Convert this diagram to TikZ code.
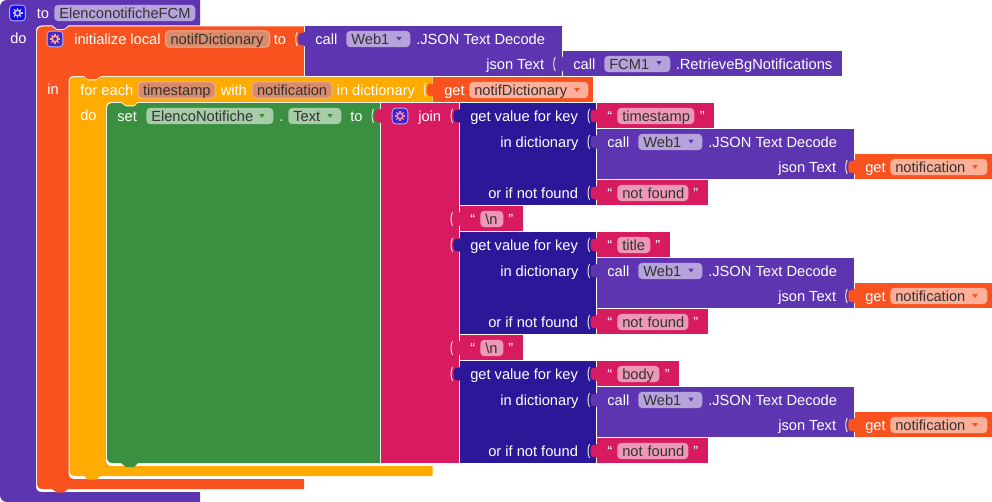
\documentclass[tikz,border=0pt]{standalone}
\usepackage{fontspec}
\setmainfont{Liberation Sans}
\definecolor{procpurple}{HTML}{5E35B1}
\definecolor{localorange}{HTML}{F9521F}
\definecolor{loopamber}{HTML}{FFAB00}
\definecolor{setgreen}{HTML}{3B8F40}
\definecolor{textpink}{HTML}{D81B60}
\definecolor{dictnavy}{HTML}{2D1799}
\definecolor{varfill}{HTML}{D98B6C}
\definecolor{varedge}{HTML}{EDB097}
\tikzset{
	lbl/.style={text=white, inner sep=0pt, anchor=west, text height=9.2pt, text depth=1.5pt, font=\fontsize{11}{13}\selectfont},
	field/.style={lbl, text=black!80, rounded corners=3pt, fill=white, fill opacity=0.55, text opacity=1, inner xsep=3.75pt, inner ysep=0.75pt, text width={(#1)*0.75pt-7.5pt}, align=left},
	varname/.style={field=#1, fill=varfill, fill opacity=1, draw=varedge, line width=0.75pt},
	quotemark/.style={lbl, font=\fontsize{11}{11}\selectfont},
	gearbox/.style={draw=white!70!blue, line width=0.6pt, rounded corners=2.5pt, minimum size=11.8pt, inner sep=0pt},
	socket/.style={white!85!gray, line width=0.7pt}
}
% value tab on the left edge of a block, with the pale socket line beside it
\newcommand{\valuetab}[3]{
	\fill [#3] (#1+0.5,#2+5) .. controls (#1,#2+10) and (#1-6.5,#2+2) .. (#1-6.5,#2+13) .. controls (#1-6.5,#2+24) and (#1,#2+16) .. (#1+0.5,#2+21) -- cycle;
	\draw [socket] (#1-7.5,#2+6) .. controls (#1-9.5,#2+10) and (#1-9.5,#2+16) .. (#1-7.5,#2+20);
}
\newcommand{\droparrow}[3]{\fill [#3] (#1-2.7,#2-1.8) -- (#1+2.7,#2-1.8) -- (#1,#2+2) -- cycle;}
\newcommand{\gearicon}[5]{
	\node [gearbox, fill=#4] (#1) at (#2,#3) {};
	\draw [#5, line width=1.1pt] (#2,#3) circle [radius=2.8];
	\foreach \ang in {0,45,...,315}
		\draw [#5, line width=1pt] ({#2+3*cos(\ang)},{#3+3*sin(\ang)}) -- ({#2+5*cos(\ang)},{#3+5*sin(\ang)});
}
\begin{document}
\begin{tikzpicture}[x=0.75pt,y=-0.75pt]
	\useasboundingbox (0,0) rectangle (992,502);
	% statement blocks, outer to inner; the white hairlines are gaps
	\fill [procpurple] (200,0) -- (200,25.5) -- (68.5,25.5) -- (64,29) -- (57,29) -- (52.5,25.5) -- (42,25.5) .. controls (38,25.5) and (36,27.5) .. (36,31) -- (36,486) .. controls (36,490) and (38,492) .. (42,492) -- (200,492) -- (200,502) -- (7,502) .. controls (3,502) and (0,499) .. (0,495) -- (0,7) .. controls (0,3) and (3,0) .. (7,0) -- cycle;
	\fill [localorange] (304,26.5) -- (304,76) -- (101,76) -- (96,79.5) -- (88,79.5) -- (84,76) -- (74.5,76) .. controls (70.5,76) and (68.5,78) .. (68.5,82) -- (68.5,473) .. controls (68.5,477) and (70.5,479) .. (74.5,479) -- (304,479) -- (304,489) -- (68,489) -- (64,492.5) -- (57,492.5) -- (52,489) -- (43,489) .. controls (39,489) and (37,487) .. (37,483) -- (37,32.5) .. controls (37,28.5) and (39,26.5) .. (43,26.5) -- (52,26.5) -- (56.5,30) -- (64,30) -- (69,26.5) -- cycle;
	\fill [loopamber] (432.7,77) -- (432.7,102) -- (138,102) -- (133.5,105.5) -- (126,105.5) -- (121.5,102) -- (112,102) .. controls (108,102) and (106,104) .. (106,108) -- (106,460) .. controls (106,464) and (108,466) .. (112,466) -- (432.7,466) -- (432.7,476) -- (100,476) -- (96,479.5) -- (88,479.5) -- (84,476) -- (75.5,476) .. controls (71.5,476) and (69.5,474) .. (69.5,470) -- (69.5,83) .. controls (69.5,79) and (71.5,77) .. (75.5,77) -- (84,77) -- (88.5,80.5) -- (96,80.5) -- (101,77) -- cycle;
	\fill [setgreen] (380,103) -- (380,463) -- (138,463) -- (134,467) -- (126,467) -- (121,463) -- (113,463) .. controls (109,463) and (107,461) .. (107,457) -- (107,109) .. controls (107,105) and (109,103) .. (113,103) -- (121,103) -- (126,106.5) -- (134,106.5) -- (138,103) -- cycle;
	% value blocks
	\fill [textpink] (381,103) rectangle (459.3,463);
	\fill [procpurple] (304.7,26) rectangle (561.7,76);
	\fill [procpurple] (562.7,51) rectangle (841.7,76);
	\fill [localorange] (433.3,77) rectangle (593.3,102);

	\fill [dictnavy] (460,103) rectangle (596,205);
	\fill [textpink] (597,103) rectangle (714.3,128);
	\fill [procpurple] (597,129) rectangle (853.7,179);
	\fill [localorange] (854.7,154) rectangle (992,179);
	\fill [textpink] (597,180) rectangle (707.7,205);
	\fill [textpink] (460,206) rectangle (522.5,231);

	\fill [dictnavy] (460,232) rectangle (596,334);
	\fill [textpink] (597,232) rectangle (669.5,257);
	\fill [procpurple] (597,258) rectangle (853.7,308);
	\fill [localorange] (854.7,283) rectangle (992,308);
	\fill [textpink] (597,309) rectangle (707.7,334);
	\fill [textpink] (460,335) rectangle (522.5,360);

	\fill [dictnavy] (460,361) rectangle (596,463);
	\fill [textpink] (597,361) rectangle (679,386);
	\fill [procpurple] (597,387) rectangle (853.7,437);
	\fill [localorange] (854.7,412) rectangle (992,437);
	\fill [textpink] (597,438) rectangle (707.7,463);

	% tabs
	\valuetab{304.7}{26}{procpurple}
	\valuetab{562.7}{51}{procpurple}
	\valuetab{433.3}{77}{localorange}
	\valuetab{381}{103}{textpink}
	\valuetab{460}{103}{dictnavy}
	\valuetab{597}{103}{textpink}
	\valuetab{597}{129}{procpurple}
	\valuetab{854.7}{154}{localorange}
	\valuetab{597}{180}{textpink}
	\valuetab{460}{206}{textpink}
	\valuetab{460}{232}{dictnavy}
	\valuetab{597}{232}{textpink}
	\valuetab{597}{258}{procpurple}
	\valuetab{854.7}{283}{localorange}
	\valuetab{597}{309}{textpink}
	\valuetab{460}{335}{textpink}
	\valuetab{460}{361}{dictnavy}
	\valuetab{597}{361}{textpink}
	\valuetab{597}{387}{procpurple}
	\valuetab{854.7}{412}{localorange}
	\valuetab{597}{438}{textpink}

	% outer blocks, texts
	\gearicon{procgear}{17.5}{13}{blue!75!procpurple}{white!70!procpurple}
	\node [lbl] (procto) at (36.5,13) {to};
	\node [field=141] (procname) at (54,13) {ElenconotificheFCM};
	\node [lbl] (procdo) at (10,38.5) {do};

	\gearicon{localgear}{55}{39}{procpurple!80!blue}{localorange!50!white}
	\node [lbl] (localinit) at (74,39) {initialize local};
	\node [varname=104] (localvar) at (165,39) {notifDictionary};
	\node [lbl] (localto) at (273.5,39) {to};
	\node [lbl] (localin) at (47,89) {in};

	\node [lbl] (loopeach) at (80,90) {for each};
	\node [varname=77] (loopkey) at (137.5,90) {timestamp};
	\node [lbl] (loopwith) at (220.5,90) {with};
	\node [varname=80] (loopval) at (251.5,90) {notification};
	\node [lbl] (loopin) at (336.5,90) {in dictionary};
	\node [lbl] (loopdo) at (80,115) {do};
	\node [lbl] (getdictlbl) at (444,90) {get};
	\node [field=119] (getdict) at (469,90) {notifDictionary};
	\droparrow{577}{90}{localorange}

	\node [lbl] (setlbl) at (117,116) {set};
	\node [field=127] (setcomp) at (146,116) {ElencoNotifiche};
	\droparrow{262}{116}{setgreen}
	\node [lbl] (setdot) at (279,116) {.};
	\node [field=53] (setprop) at (288,116) {Text};
	\droparrow{330}{116}{setgreen}
	\node [lbl] (setto) at (350,116) {to};

	\gearicon{joingear}{400}{116}{procpurple!70!blue}{textpink!50!white}
	\node [lbl] (joinlbl) at (418,116) {join};

	% top call blocks
	\node [lbl] (decodecall) at (315,39) {call};
	\node [field=64] (decodecomp) at (346,39) {Web1};
	\droparrow{399}{38.7}{procpurple}
	\node [lbl] (decodename) at (416,39) {.JSON Text Decode};
	\node [lbl] (decodearg) at (486,64) {json Text};
	\node [lbl] (fcmcall) at (573,64) {call};
	\node [field=66] (fcmcomp) at (604,64) {FCM1};
	\droparrow{659}{63}{procpurple}
	\node [lbl] (fcmname) at (675.5,64) {.RetrieveBgNotifications};

	% timestamp row
	\node [lbl] (keylblA) at (470,116) {get value for key};
	\node [quotemark] (keyopenA) at (607,116) {“};
	\node [field=77] (keyA) at (617,116) {timestamp};
	\node [quotemark] (keycloseA) at (699.5,116) {”};
	\node [lbl] (dictlblA) at (500,142) {in dictionary};
	\node [lbl] (callA) at (607,142) {call};
	\node [field=64] (compA) at (638,142) {Web1};
	\droparrow{691}{141.5}{procpurple}
	\node [lbl] (nameA) at (708,142) {.JSON Text Decode};
	\node [lbl] (argA) at (778,167) {json Text};
	\node [lbl] (getlblA) at (865,167) {get};
	\node [field=97] (getA) at (890,167) {notification};
	\droparrow{975}{167}{localorange}
	\node [lbl] (elselblA) at (488,193) {or if not found};
	\node [quotemark] (elseopenA) at (607,193) {“};
	\node [field=71] (elseA) at (617,193) {not~found};
	\node [quotemark] (elsecloseA) at (693,193) {”};
	\node [quotemark] (nlopenA) at (470,219) {“};
	\node [field=23] (nlA) at (480,219) {\textbackslash n};
	\node [quotemark] (nlcloseA) at (508,219) {”};

	% title row
	\node [lbl] (keylblB) at (470,245) {get value for key};
	\node [quotemark] (keyopenB) at (607,245) {“};
	\node [field=33] (keyB) at (617,245) {title};
	\node [quotemark] (keycloseB) at (655,245) {”};
	\node [lbl] (dictlblB) at (500,271) {in dictionary};
	\node [lbl] (callB) at (607,271) {call};
	\node [field=64] (compB) at (638,271) {Web1};
	\droparrow{691}{270.5}{procpurple}
	\node [lbl] (nameB) at (708,271) {.JSON Text Decode};
	\node [lbl] (argB) at (778,296) {json Text};
	\node [lbl] (getlblB) at (865,296) {get};
	\node [field=97] (getB) at (890,296) {notification};
	\droparrow{975}{296}{localorange}
	\node [lbl] (elselblB) at (488,322) {or if not found};
	\node [quotemark] (elseopenB) at (607,322) {“};
	\node [field=71] (elseB) at (617,322) {not~found};
	\node [quotemark] (elsecloseB) at (693,322) {”};
	\node [quotemark] (nlopenB) at (470,348) {“};
	\node [field=23] (nlB) at (480,348) {\textbackslash n};
	\node [quotemark] (nlcloseB) at (508,348) {”};

	% body row
	\node [lbl] (keylblC) at (470,374) {get value for key};
	\node [quotemark] (keyopenC) at (607,374) {“};
	\node [field=42] (keyC) at (617,374) {body};
	\node [quotemark] (keycloseC) at (664.5,374) {”};
	\node [lbl] (dictlblC) at (500,400) {in dictionary};
	\node [lbl] (callC) at (607,400) {call};
	\node [field=64] (compC) at (638,400) {Web1};
	\droparrow{691}{399.5}{procpurple}
	\node [lbl] (nameC) at (708,400) {.JSON Text Decode};
	\node [lbl] (argC) at (778,425) {json Text};
	\node [lbl] (getlblC) at (865,425) {get};
	\node [field=97] (getC) at (890,425) {notification};
	\droparrow{975}{425}{localorange}
	\node [lbl] (elselblC) at (488,451) {or if not found};
	\node [quotemark] (elseopenC) at (607,451) {“};
	\node [field=71] (elseC) at (617,451) {not~found};
	\node [quotemark] (elsecloseC) at (693,451) {”};
\end{tikzpicture}
\end{document}
